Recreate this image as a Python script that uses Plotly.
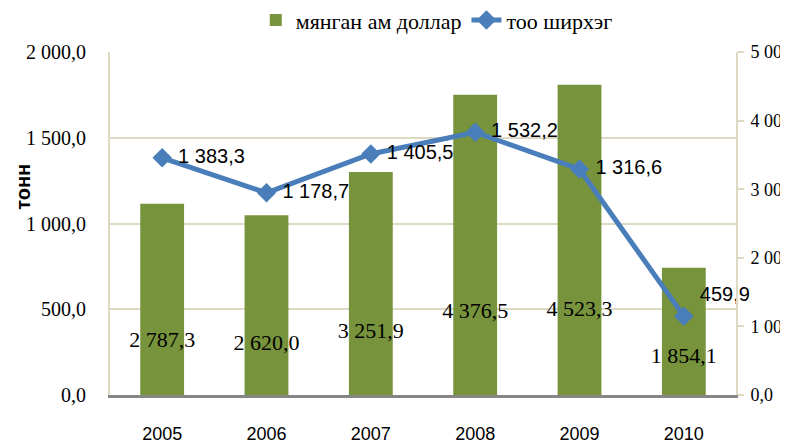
import plotly.graph_objects as go

years = ["2005", "2006", "2007", "2008", "2009", "2010"]
usd_thousand = [2787.3, 2620.0, 3251.9, 4376.5, 4523.3, 1854.1]   # мянган ам доллар (bars)
tonnes = [1383.3, 1178.7, 1405.5, 1532.2, 1316.6, 459.9]          # тоо ширхэг (line)
left_ticks = [0, 500, 1000, 1500, 2000]
right_tickvals = [0, 1000, 2000, 3000, 4000, 5000]
right_ticktext = ["0,0", "1 00", "2 00", "3 00", "4 00", "5 00"]

BAR = "#77933C"
LINE = "#4A7EBB"
GRID = "#DDD9C3"
SERIF = "Liberation Serif"
SANS = "Liberation Sans"

fig = go.Figure()

# bars on primary y (right-hand scale)
fig.add_trace(go.Bar(
    x=years, y=usd_thousand, name="мянган ам доллар", yaxis="y",
    marker=dict(color=BAR, line=dict(width=0)),
))

# line on the left-hand scale
fig.add_trace(go.Scatter(
    x=years, y=tonnes, name="тоо ширхэг", yaxis="y2",
    mode="lines+markers+text",
    line=dict(color=LINE, width=5),
    marker=dict(symbol="diamond", size=15, color=LINE),
    texttemplate="\u00a0%{y:,.1f}",
    textposition=["middle right"] * 5 + ["top right"],
    textfont=dict(family=SANS, size=20, color="#000000"),
    cliponaxis=False,
))

# bar value labels
fig.add_trace(go.Scatter(
    x=years, y=usd_thousand, yaxis="y3", mode="text",
    texttemplate="%{y:,.1f}", textposition="middle center",
    textfont=dict(family=SERIF, size=22, color="#000000"),
    showlegend=False, hoverinfo="skip",
))

# page body adds an 8px offset, so the figure is 8px smaller than the window
fig.update_layout(
    width=780, height=436,
    margin=dict(l=102, r=52, t=44, b=49),
    paper_bgcolor="white", plot_bgcolor="white",
    separators=", ",
    bargap=0.58,
    showlegend=True,
    legend=dict(orientation="h", x=0.522, xanchor="center",
                yref="container", y=0.972, yanchor="middle",
                font=dict(family=SERIF, size=22, color="#000000"),
                bgcolor="rgba(0,0,0,0)"),
    xaxis=dict(
        type="category", showgrid=False, showline=True, linecolor="#868686", linewidth=3,
        ticks="", ticklabelstandoff=20, automargin=False,
        tickfont=dict(family=SANS, size=18, color="#000000"),
    ),
    yaxis=dict(
        range=[0, 5000], side="right", automargin=False,
        tickvals=right_tickvals, ticktext=right_ticktext,
        showgrid=False, showline=True, linecolor=GRID, linewidth=2, zeroline=False,
        ticks="outside", ticklen=6, tickcolor=GRID, tickwidth=2, ticklabelstandoff=3,
        tickfont=dict(family=SERIF, size=18, color="#000000"),
    ),
    yaxis2=dict(
        range=[0, 2000], overlaying="y", side="left", automargin=False,
        tickvals=left_ticks, tickformat=",.1f",
        showgrid=True, gridcolor=GRID, gridwidth=2,
        showline=True, linecolor=GRID, linewidth=2, zeroline=False,
        ticks="", ticklabelstandoff=18,
        tickfont=dict(family=SERIF, size=20, color="#000000"),
    ),
    yaxis3=dict(range=[-230, 19000], overlaying="y", visible=False),
    annotations=[dict(
        text="<b>тонн</b>", textangle=-90, xref="paper", yref="paper",
        x=-0.138, y=0.606, xanchor="center", yanchor="middle", showarrow=False,
        font=dict(family=SANS, size=20, color="#000000"),
    )],
)

fig.write_html("out.html")
